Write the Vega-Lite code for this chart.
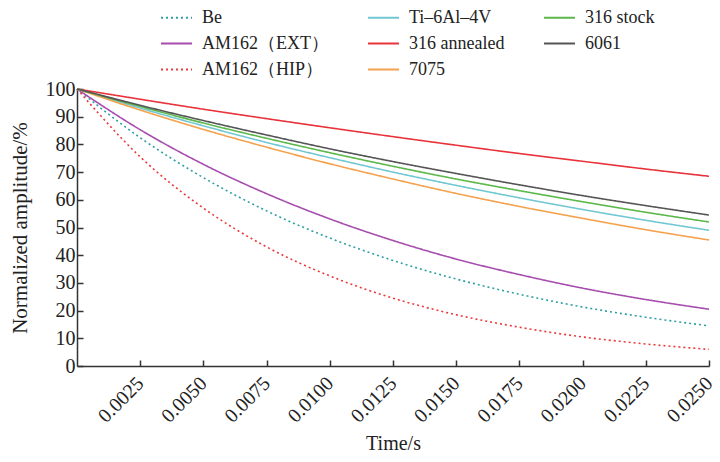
{
  "$schema": "https://vega.github.io/schema/vega-lite/v6.json",
  "width": 632,
  "height": 277,
  "autosize": {"type": "none"},
  "padding": {"left": 77, "top": 89, "right": 11, "bottom": 96},
  "background": "white",
  "config": {
    "view": {"stroke": null},
    "font": "Times New Roman, Liberation Serif, serif",
    "axis": {
      "labelFont": "Times New Roman, Liberation Serif, serif",
      "titleFont": "Times New Roman, Liberation Serif, serif",
      "labelFontSize": 20,
      "titleFontSize": 20,
      "labelColor": "#222",
      "titleColor": "#222",
      "titleFontWeight": "normal",
      "domainColor": "#333",
      "domainWidth": 1.5,
      "tickColor": "#333",
      "tickWidth": 1.5,
      "grid": false
    },
    "legend": {
      "labelFont": "Times New Roman, Liberation Serif, serif",
      "labelFontSize": 18,
      "labelColor": "#222"
    }
  },
  "data": {
    "values": [
      {"t": 0, "v": 100, "s": "Be"}, {"t": 0.0025, "v": 82.4, "s": "Be"}, {"t": 0.005, "v": 68.0, "s": "Be"}, {"t": 0.0075, "v": 56.0, "s": "Be"}, {"t": 0.01, "v": 46.2, "s": "Be"}, {"t": 0.0125, "v": 38.1, "s": "Be"}, {"t": 0.015, "v": 31.4, "s": "Be"}, {"t": 0.0175, "v": 25.9, "s": "Be"}, {"t": 0.02, "v": 21.3, "s": "Be"}, {"t": 0.0225, "v": 17.6, "s": "Be"}, {"t": 0.025, "v": 14.5, "s": "Be"},
      {"t": 0, "v": 100, "s": "AM162（EXT）"}, {"t": 0.0025, "v": 85.3, "s": "AM162（EXT）"}, {"t": 0.005, "v": 72.8, "s": "AM162（EXT）"}, {"t": 0.0075, "v": 62.2, "s": "AM162（EXT）"}, {"t": 0.01, "v": 53.1, "s": "AM162（EXT）"}, {"t": 0.0125, "v": 45.3, "s": "AM162（EXT）"}, {"t": 0.015, "v": 38.6, "s": "AM162（EXT）"}, {"t": 0.0175, "v": 33.0, "s": "AM162（EXT）"}, {"t": 0.02, "v": 28.1, "s": "AM162（EXT）"}, {"t": 0.0225, "v": 24.0, "s": "AM162（EXT）"}, {"t": 0.025, "v": 20.5, "s": "AM162（EXT）"},
      {"t": 0, "v": 100, "s": "AM162（HIP）"}, {"t": 0.0025, "v": 75.5, "s": "AM162（HIP）"}, {"t": 0.005, "v": 57.0, "s": "AM162（HIP）"}, {"t": 0.0075, "v": 43.0, "s": "AM162（HIP）"}, {"t": 0.01, "v": 32.5, "s": "AM162（HIP）"}, {"t": 0.0125, "v": 24.5, "s": "AM162（HIP）"}, {"t": 0.015, "v": 18.5, "s": "AM162（HIP）"}, {"t": 0.0175, "v": 14.0, "s": "AM162（HIP）"}, {"t": 0.02, "v": 10.5, "s": "AM162（HIP）"}, {"t": 0.0225, "v": 7.95, "s": "AM162（HIP）"}, {"t": 0.025, "v": 6.0, "s": "AM162（HIP）"},
      {"t": 0, "v": 100, "s": "Ti–6Al–4V"}, {"t": 0.0025, "v": 93.1, "s": "Ti–6Al–4V"}, {"t": 0.005, "v": 86.7, "s": "Ti–6Al–4V"}, {"t": 0.0075, "v": 80.7, "s": "Ti–6Al–4V"}, {"t": 0.01, "v": 75.2, "s": "Ti–6Al–4V"}, {"t": 0.0125, "v": 70.0, "s": "Ti–6Al–4V"}, {"t": 0.015, "v": 65.2, "s": "Ti–6Al–4V"}, {"t": 0.0175, "v": 60.7, "s": "Ti–6Al–4V"}, {"t": 0.02, "v": 56.5, "s": "Ti–6Al–4V"}, {"t": 0.0225, "v": 52.6, "s": "Ti–6Al–4V"}, {"t": 0.025, "v": 49.0, "s": "Ti–6Al–4V"},
      {"t": 0, "v": 100, "s": "316 annealed"}, {"t": 0.0025, "v": 96.3, "s": "316 annealed"}, {"t": 0.005, "v": 92.7, "s": "316 annealed"}, {"t": 0.0075, "v": 89.3, "s": "316 annealed"}, {"t": 0.01, "v": 86.0, "s": "316 annealed"}, {"t": 0.0125, "v": 82.8, "s": "316 annealed"}, {"t": 0.015, "v": 79.7, "s": "316 annealed"}, {"t": 0.0175, "v": 76.7, "s": "316 annealed"}, {"t": 0.02, "v": 73.9, "s": "316 annealed"}, {"t": 0.0225, "v": 71.1, "s": "316 annealed"}, {"t": 0.025, "v": 68.5, "s": "316 annealed"},
      {"t": 0, "v": 100, "s": "7075"}, {"t": 0.0025, "v": 92.4, "s": "7075"}, {"t": 0.005, "v": 85.4, "s": "7075"}, {"t": 0.0075, "v": 79.0, "s": "7075"}, {"t": 0.01, "v": 73.0, "s": "7075"}, {"t": 0.0125, "v": 67.5, "s": "7075"}, {"t": 0.015, "v": 62.3, "s": "7075"}, {"t": 0.0175, "v": 57.6, "s": "7075"}, {"t": 0.02, "v": 53.3, "s": "7075"}, {"t": 0.0225, "v": 49.2, "s": "7075"}, {"t": 0.025, "v": 45.5, "s": "7075"},
      {"t": 0, "v": 100, "s": "316 stock"}, {"t": 0.0025, "v": 93.7, "s": "316 stock"}, {"t": 0.005, "v": 87.7, "s": "316 stock"}, {"t": 0.0075, "v": 82.2, "s": "316 stock"}, {"t": 0.01, "v": 77.0, "s": "316 stock"}, {"t": 0.0125, "v": 72.1, "s": "316 stock"}, {"t": 0.015, "v": 67.5, "s": "316 stock"}, {"t": 0.0175, "v": 63.3, "s": "316 stock"}, {"t": 0.02, "v": 59.3, "s": "316 stock"}, {"t": 0.0225, "v": 55.5, "s": "316 stock"}, {"t": 0.025, "v": 52.0, "s": "316 stock"},
      {"t": 0, "v": 100, "s": "6061"}, {"t": 0.0025, "v": 94.1, "s": "6061"}, {"t": 0.005, "v": 88.6, "s": "6061"}, {"t": 0.0075, "v": 83.4, "s": "6061"}, {"t": 0.01, "v": 78.4, "s": "6061"}, {"t": 0.0125, "v": 73.8, "s": "6061"}, {"t": 0.015, "v": 69.5, "s": "6061"}, {"t": 0.0175, "v": 65.4, "s": "6061"}, {"t": 0.02, "v": 61.5, "s": "6061"}, {"t": 0.0225, "v": 57.9, "s": "6061"}, {"t": 0.025, "v": 54.5, "s": "6061"}
    ]
  },
  "mark": {"type": "line", "strokeWidth": 1.6, "interpolate": "monotone", "clip": false},
  "encoding": {
    "x": {
      "field": "t", "type": "quantitative",
      "scale": {"domain": [0, 0.025], "nice": false, "zero": false},
      "axis": {
        "title": "Time/s",
        "values": [0.0025, 0.005, 0.0075, 0.01, 0.0125, 0.015, 0.0175, 0.02, 0.0225, 0.025],
        "format": ".4f",
        "labelAngle": -45,
        "labelAlign": "right",
        "labelBaseline": "middle",
        "tickSize": -6,
        "labelPadding": 20,
        "titlePadding": 8
      }
    },
    "y": {
      "field": "v", "type": "quantitative",
      "scale": {"domain": [0, 100], "nice": false},
      "axis": {
        "title": "Normalized amplitude/%",
        "titleFontSize": 21,
        "values": [0, 10, 20, 30, 40, 50, 60, 70, 80, 90, 100],
        "tickSize": -6,
        "labelPadding": 8,
        "titlePadding": 15
      }
    },
    "color": {
      "field": "s", "type": "nominal",
      "scale": {
        "domain": ["Be", "AM162（EXT）", "AM162（HIP）", "Ti–6Al–4V", "316 annealed", "7075", "316 stock", "6061"],
        "range": ["#2f9fa3", "#a64dae", "#ea3a3a", "#72c8d2", "#e8333a", "#f4a24e", "#5cb84a", "#555555"]
      },
      "legend": {
        "orient": "none",
        "legendX": 83,
        "legendY": -88,
        "columns": 3,
        "title": null,
        "symbolType": "stroke",
        "symbolSize": 961,
        "symbolStrokeWidth": 2,
        "labelOffset": 9,
        "rowPadding": 0,
        "columnPadding": 35,
        "gridAlign": "each"
      }
    },
    "strokeDash": {
      "field": "s", "type": "nominal",
      "scale": {
        "domain": ["Be", "AM162（EXT）", "AM162（HIP）", "Ti–6Al–4V", "316 annealed", "7075", "316 stock", "6061"],
        "range": [[2, 3], [1, 0], [2, 3], [1, 0], [1, 0], [1, 0], [1, 0], [1, 0]]
      },
      "legend": {
        "orient": "none",
        "legendX": 83,
        "legendY": -88,
        "columns": 3,
        "title": null,
        "symbolType": "stroke",
        "symbolSize": 961,
        "symbolStrokeWidth": 2,
        "labelOffset": 9,
        "rowPadding": 0,
        "columnPadding": 35,
        "gridAlign": "each"
      }
    }
  }
}
